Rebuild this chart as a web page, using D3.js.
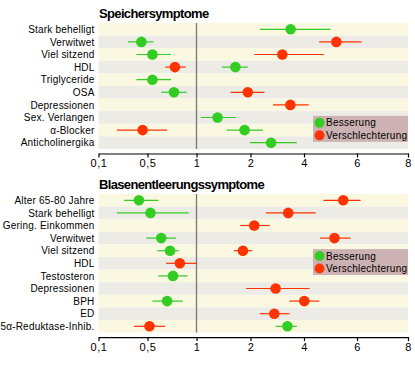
<!DOCTYPE html>
<html><head><meta charset="utf-8">
<script src="https://cdn.jsdelivr.net/npm/d3@7"></script>
<style>body{margin:0;background:#fff}svg{display:block}</style>
</head><body>
<script>
const tickValues = [0.1, 0.5, 1, 2, 4, 6, 8];
const tickLabels = ["0,1", "0,5", "1", "2", "4", "6", "8"];

const storageTitle = "Speichersymptome";
const storageCats = ["Stark behelligt","Verwitwet","Viel sitzend","HDL","Triglyceride","OSA","Depressionen","Sex. Verlangen","\u03b1-Blocker","Anticholinergika"];
// [estimate, lower, upper] or null
const storageGreen = [[3.5,2.35,5.0],[0.45,0.34,0.56],[0.55,0.41,0.74],[1.72,1.47,1.95],[0.55,0.41,0.74],[0.77,0.64,0.9],null,[1.39,1.08,1.73],[1.89,1.56,2.46],[2.77,1.99,3.73]];
const storageRed = [null,[5.22,4.57,6.18],[3.19,2.14,4.75],[0.78,0.68,0.89],null,[1.95,1.63,2.52],[3.49,2.84,4.18],null,[0.46,0.25,0.70],null];

const voidingTitle = "Blasenentleerungssymptome";
const voidingCats = ["Alter 65-80 Jahre","Stark behelligt","Gering. Einkommen","Verwitwet","Viel sitzend","HDL","Testosteron","Depressionen","BPH","ED","5\u03b1-Reduktase-Inhib."];
const voidingGreen = [[0.43,0.31,0.61],[0.53,0.25,0.92],null,[0.64,0.49,0.79],[0.73,0.6,0.82],null,[0.76,0.61,0.91],null,[0.70,0.55,0.86],null,[3.38,2.93,3.73]];
const voidingRed = [[5.48,4.73,6.14],[3.41,2.58,4.44],[2.14,1.81,2.72],[5.15,4.6,5.76],[1.86,1.69,2.07],[0.83,0.69,1.0],null,[2.94,1.92,4.21],[4.01,3.45,4.58],[2.89,2.35,3.46],[0.52,0.39,0.68]];

const legendLabels = ["Besserung","Verschlechterung"];
const GREEN = "#33cc22", RED = "#ff3300";

const W = 415, H = 365;
const FONT = "'Liberation Sans', Arial, sans-serif";
const svg = d3.select("body").append("svg").attr("width", W).attr("height", H)
  .style("font-family", FONT);

const x = d3.scaleLinear().domain(tickValues).range([98.5, 147.5, 196.5, 250.5, 304, 357, 408]);

function panel(title, cats, green, red, top, rowH, legendRow) {
  const g = svg.append("g");
  const n = cats.length;
  const y = d3.scaleBand().domain(d3.range(n)).range([top, top + n * rowH]).paddingInner(0).paddingOuter(0);
  // bands
  g.selectAll("rect.band").data(cats).enter().append("rect")
    .attr("x", x(0.1)).attr("width", x(8) - x(0.1))
    .attr("y", (d, i) => y(i)).attr("height", y.bandwidth())
    .attr("fill", (d, i) => i % 2 === 0 ? "#faf8e1" : "#ecebe6");
  // reference line at 1
  g.append("line").attr("x1", x(1)).attr("x2", x(1))
    .attr("y1", top).attr("y2", top + n * rowH)
    .attr("stroke", "#777").attr("stroke-width", 1.3);
  // title
  g.append("text").attr("x", 99).attr("y", top - 5.5).text(title)
    .attr("font-weight", "bold").attr("font-size", 13).attr("letter-spacing", -0.65).attr("fill", "#000");
  // category labels
  g.selectAll("text.cat").data(cats).enter().append("text")
    .attr("x", 94.5).attr("y", (d, i) => y(i) + y.bandwidth() / 2 + 3.6)
    .attr("text-anchor", "end").attr("font-size", 10).attr("letter-spacing", 0.2).text(d => d);
  // series
  [[green, GREEN], [red, RED]].forEach(([arr, col]) => {
    arr.forEach((d, i) => {
      if (!d) return;
      const cy = y(i) + y.bandwidth() / 2;
      g.append("line").attr("x1", x(d[1])).attr("x2", x(d[2])).attr("y1", cy).attr("y2", cy)
        .attr("stroke", col).attr("stroke-width", 1.2);
      g.append("circle").attr("cx", x(d[0])).attr("cy", cy).attr("r", 5.3).attr("fill", col);
    });
  });
  // axis
  const axisY = top + n * rowH + 4.5;
  const ax = g.append("g").attr("transform", `translate(0,${axisY})`)
    .call(d3.axisBottom(x).tickValues(tickValues).tickFormat((d, i) => tickLabels[i]).tickSize(4).tickSizeOuter(0));
  ax.select(".domain").attr("stroke", "#000").attr("stroke-width", 1.2);
  ax.selectAll(".tick line").attr("stroke", "#000").attr("stroke-width", 1.2);
  ax.selectAll(".tick text").attr("font-size", 11).attr("font-family", FONT)
    .attr("letter-spacing", 0.5).attr("dy", "0.6em").attr("fill", "#000");
  // legend
  const ly = top + legendRow * rowH;
  const lg = g.append("g");
  lg.append("rect").attr("x", 313).attr("y", ly - 1).attr("width", 95).attr("height", 26).attr("fill", "#ccb2b2");
  legendLabels.forEach((t, k) => {
    const cy = ly + 6 + k * 12.5;
    lg.append("circle").attr("cx", 319.5).attr("cy", cy).attr("r", 5).attr("fill", k === 0 ? GREEN : RED);
    lg.append("text").attr("x", 326).attr("y", cy + 3.6).attr("font-size", 10).attr("letter-spacing", 0.25).text(t);
  });
}

panel(storageTitle, storageCats, storageGreen, storageRed, 23, 12.6, 7.45);
panel(voidingTitle, voidingCats, voidingGreen, voidingRed, 194, 12.6, 4.45);
</script>
</body></html>
